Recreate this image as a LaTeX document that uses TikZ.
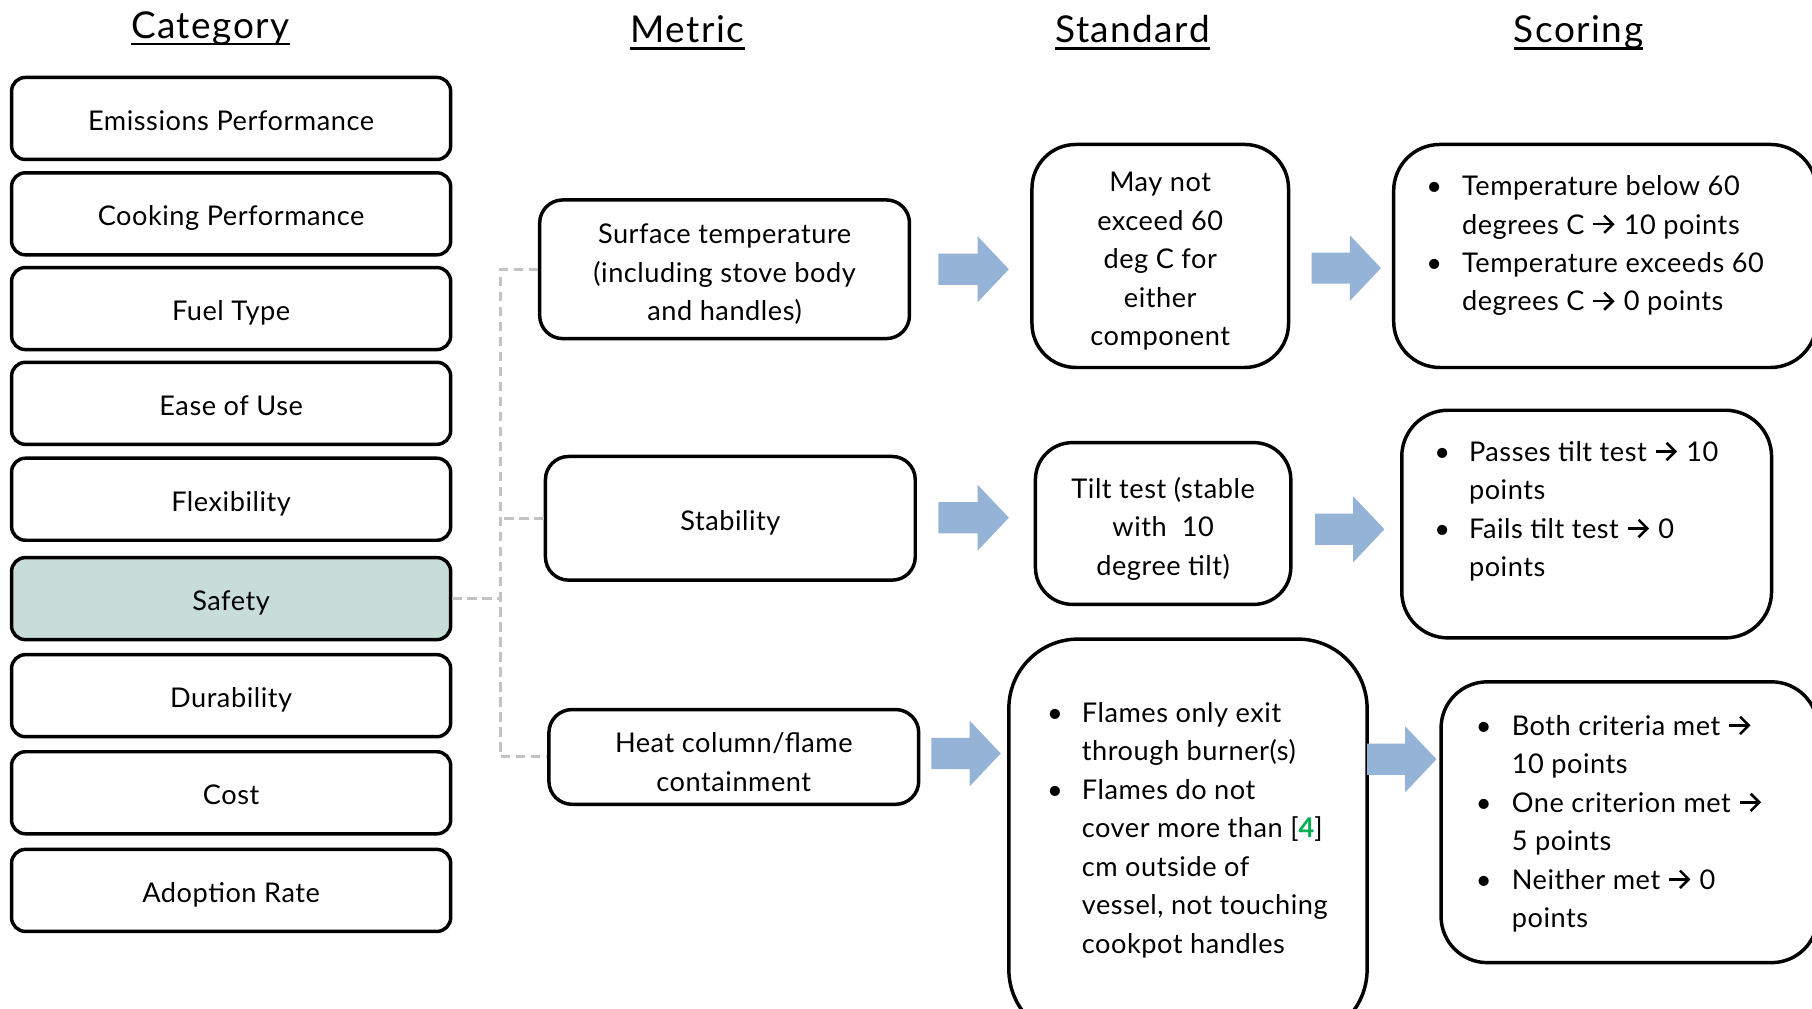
\documentclass[tikz,border=0pt]{standalone}
\usepackage{fontspec}
\setmainfont{Lato}
\newfontfamily\boxfam[LetterSpace=2]{Lato}
\newfontfamily\headfam[LetterSpace=4]{Lato}
\usetikzlibrary{calc}

\definecolor{arrowblue}{HTML}{95B3D7}
\definecolor{safetyfill}{HTML}{C9DDD8}
\definecolor{dashgray}{HTML}{C3C3C3}
\definecolor{refgreen}{HTML}{00B050}

\newcommand{\boxfont}{\boxfam\fontsize{23.5}{33.3}\selectfont}
\newcommand{\headfont}{\headfam\fontsize{32}{36}\selectfont}
% open-headed arrow used inside the scoring texts
\newcommand{\ra}{\tikz[x=1pt,y=1pt,baseline=0pt,line width=2.2pt]{%
  \draw[line cap=butt] (0,8.5) -- (17,8.5);
  \draw[line join=miter,line cap=butt] (9.5,16) -- (17,8.5) -- (9.5,1);}\kern2pt}
\newcommand{\bul}[1]{\strut\makebox[#1][l]{•}}
\newcommand{\ind}[1]{\strut\hspace*{#1}}

% block arrow from x=#1 to tip x=#2 at height #3
\newcommand{\blockarrow}[3]{%
  \fill[arrowblue] (#1,#3-13.5) -- (#2-27,#3-13.5) -- (#2-27,#3-28.5) -- (#2,#3)
    -- (#2-27,#3+28.5) -- (#2-27,#3+13.5) -- (#1,#3+13.5) -- cycle;}

\tikzset{
  box/.style={draw=black, line width=3pt, fill=white, align=center,
    inner sep=0pt, font=\boxfont,
    execute at begin node={\rule{0pt}{26pt}},
    execute at end node={\rule[-5.6pt]{0pt}{0pt}}},
  catbox/.style={box, rounded corners=12pt, minimum width=380pt, minimum height=71pt},
  metricbox/.style={box, rounded corners=20pt, minimum width=320pt},
  roundbox/.style={box, rounded corners=38pt},
  boxtext/.style={align=center, inner sep=0pt, font=\boxfont},
  listtext/.style={anchor=north west, align=left, inner sep=0pt, font=\boxfont},
  header/.style={anchor=base, inner sep=0pt, font=\headfont},
  dashline/.style={draw=dashgray, line width=2.5pt, dash pattern=on 8pt off 5pt},
}

\begin{document}
\begin{tikzpicture}[x=1pt, y=-1pt]
\useasboundingbox (0,0) rectangle (1568,873);
\clip (0,0) rectangle (1568,873);

% column headers
\node[header] (hcat) at (182,33) {Category};
\node[header] (hmet) at (595,37) {Metric};
\node[header] (hstd) at (980,37) {Standard};
\node[header] (hsco) at (1366,37) {Scoring};
\foreach \h in {hcat,hmet,hstd,hsco}
  \draw[line width=2pt] ([yshift=-5pt]\h.base west) -- ([yshift=-5pt]\h.base east);

% categories
\node[catbox] (cat1) at (200,102.5) {Emissions Performance};
\node[catbox] (cat2) at (200,185) {Cooking Performance};
\node[catbox] (cat3) at (200,267) {Fuel Type};
\node[catbox] (cat4) at (200,349) {Ease of Use};
\node[catbox] (cat5) at (200,432) {Flexibility};
\node[catbox, fill=safetyfill] (safety) at (200,518) {Safety};
\node[catbox] (cat7) at (200,602) {Durability};
\node[catbox] (cat8) at (200,686) {Cost};
\node[catbox] (cat9) at (200,770.5) {Adoption Rate};

% metrics
\node[metricbox, minimum height=120pt] (m1) at (627,233) {};
\node[boxtext] (m1t) at ([yshift=-4.5pt]m1.center)
  {Surface temperature\\(including stove body\\and handles)};
\node[metricbox, minimum height=107pt] (m2) at (632,448.5) {Stability};
\node[metricbox, minimum height=82pt] (m3) at (635,655) {};
\node[boxtext] (m3t) at ([yshift=-4.5pt]m3.center)
  {Heat column/flame\\containment};

% dashed links from Safety to its metrics
\coordinate (trunk) at (433,0);
\draw[dashline] (safety.east) -- (safety.east -| trunk);
\draw[dashline] (m1.west) -| (m3.west -| trunk) -- (m3.west);
\draw[dashline] (m2.west) -- (m2.west -| trunk);

% standards
\node[roundbox, minimum width=222pt, minimum height=193pt] (s1) at (1004,221.5) {};
\node[boxtext] (s1t) at ([yshift=-4.5pt]s1.center)
  {May not\\exceed 60\\deg C for\\either\\component};
\node[roundbox, rounded corners=32pt, minimum width=221pt, minimum height=140pt] (s2) at (1006.5,453) {};
\node[boxtext] (s2t) at ([yshift=-4.5pt]s2.center)
  {Tilt test (stable\\with \ 10\\degree tilt)};
\node[roundbox, rounded corners=60pt, minimum width=310pt, minimum height=346pt] (s3) at (1028,726) {};
\node[listtext] (s3t) at (906,601.7)
  {\bul{30pt}Flames only exit\\
   \ind{30pt}through burner(s)\\
   \bul{30pt}Flames do not\\
   \ind{30pt}cover more than [{\color{refgreen}\bfseries 4}]\\
   \ind{30pt}cm outside of\\
   \ind{30pt}vessel, not touching\\
   \ind{30pt}cookpot handles};

% scoring
\node[roundbox, rounded corners=40pt, minimum width=366pt, minimum height=193pt] (c1) at (1389,221.5) {};
\node[listtext] (c1t) at (1234,145.7)
  {\bul{31pt}Temperature below 60\\
   \ind{31pt}degrees C \ra{} 10 points\\
   \bul{31pt}Temperature exceeds 60\\
   \ind{31pt}degrees C \ra{} 0 points};
\node[roundbox, rounded corners=40pt, minimum width=320pt, minimum height=197pt] (c2) at (1373,453.5) {};
\node[listtext] (c2t) at (1241,375.7)
  {\bul{30pt}Passes tilt test \ra{} 10\\
   \ind{30pt}points\\
   \bul{30pt}Fails tilt test \ra{} 0\\
   \ind{30pt}points};
\node[roundbox, rounded corners=40pt, minimum width=326pt, minimum height=243pt] (c3) at (1410,711.5) {};
\node[listtext] (c3t) at (1277,612.7)
  {\bul{31pt}Both criteria met \ra\\
   \ind{31pt}10 points\\
   \bul{31pt}One criterion met \ra\\
   \ind{31pt}5 points\\
   \bul{31pt}Neither met \ra{} 0\\
   \ind{31pt}points};

% block arrows between the columns
\blockarrow{812}{873}{233}
\blockarrow{812}{873}{448}
\blockarrow{806}{866}{652}
\blockarrow{1135}{1195}{232}
\blockarrow{1138}{1198}{458}
\blockarrow{1183}{1243}{657}
\end{tikzpicture}
\end{document}
